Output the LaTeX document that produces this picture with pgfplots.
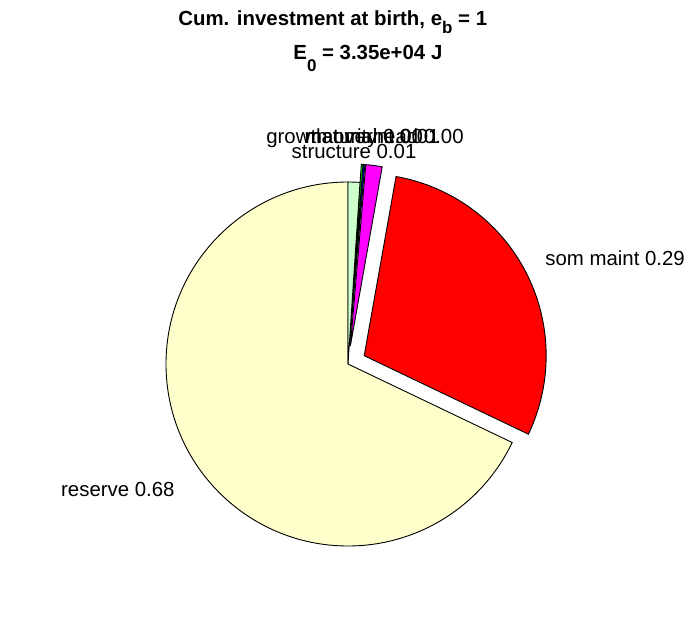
\documentclass[border=0pt]{standalone}
\usepackage{pgfplots}
\usepackage{pgfplotstable}
\pgfplotsset{compat=1.18}
\usepackage{fontspec}
\setmainfont{Liberation Sans}
\definecolor{reservecol}{RGB}{255,255,204}
\definecolor{structcol}{RGB}{204,255,204}
\definecolor{pgreen}{RGB}{0,255,0}
\definecolor{pblue}{RGB}{0,0,255}
\definecolor{pmag}{RGB}{255,0,255}
\definecolor{pred}{RGB}{255,0,0}

% pie fractions, counterclockwise from 90 degrees; ex = exploded
\pgfplotstableread[col sep=comma]{
label,frac,col,ex
reserve,0.679,reservecol,0
som maint,0.293,pred,1
mat maint,0.0145,pmag,1
maturity,0.0015,pblue,1
growth overhead,0.0015,pgreen,1
structure,0.0105,structcol,0
}\pietable

\newcommand\piecmds{}
\def\cum{90}
\pgfplotsforeachungrouped \i in {0,...,5}{%
  \pgfplotstablegetelem{\i}{frac}\of\pietable \let\pfrac\pgfplotsretval
  \pgfplotstablegetelem{\i}{col}\of\pietable \let\pcol\pgfplotsretval
  \pgfplotstablegetelem{\i}{ex}\of\pietable \let\pex\pgfplotsretval
  \pgfmathsetmacro\pstart{\cum}%
  \pgfmathsetmacro\pend{\cum+360*\pfrac}%
  \pgfmathsetmacro\pmid{(\pstart+\pend)/2}%
  \pgfmathsetmacro\pdx{\pex*18.2*cos(\pmid)}%
  \pgfmathsetmacro\pdy{\pex*18.2*sin(\pmid)}%
  \edef\piece{\noexpand\filldraw[fill=\pcol,draw=black,line width=0.45pt] (axis cs:\pdx,\pdy) -- ++(\pstart:91pt) arc[start angle=\pstart,end angle=\pend,radius=91pt] -- cycle;}%
  \xdef\piecmds{\unexpanded\expandafter{\piecmds}\unexpanded\expandafter{\piece}}%
  \global\let\cum\pend
}

\begin{document}
\begin{tikzpicture}[every node/.append style={inner sep=0pt}]
\begin{axis}[
  x=0.5pt, y=0.5pt,
  xmin=-348, xmax=348, ymin=-254, ymax=364,
  hide axis, clip=false,
]
\piecmds
\def\lf{\fontsize{10.2}{12}\selectfont}
\node[anchor=base west, font=\lf\bfseries] at (axis cs:-170,338)
  {Cum. investment at birth, e\raisebox{-3.7pt}{\fontsize{8.5}{9}\selectfont b} = 1};
\node[anchor=base west, font=\lf\bfseries] at (axis cs:-55,305)
  {E\raisebox{-6.2pt}{\fontsize{8.5}{9}\selectfont 0} = 3.35e+04 J};
\node[anchor=base west, font=\lf] at (axis cs:197,99) {som maint 0.29};
\node[anchor=base east, font=\lf] at (axis cs:-173,-132) {reserve 0.68};
\node[anchor=base, font=\lf] at (axis cs:6,206) {structure 0.01};
\node[anchor=base, font=\lf] at (axis cs:17,221) {growth overhead 0.00};
\node[anchor=base, font=\lf] at (axis cs:16,221) {maturity 0.00};
\node[anchor=base, font=\lf] at (axis cs:24,221) {mat maint 0.01};
\end{axis}
\pgfresetboundingbox
\path (current axis.south west) rectangle (current axis.north east);
\end{tikzpicture}
\end{document}
